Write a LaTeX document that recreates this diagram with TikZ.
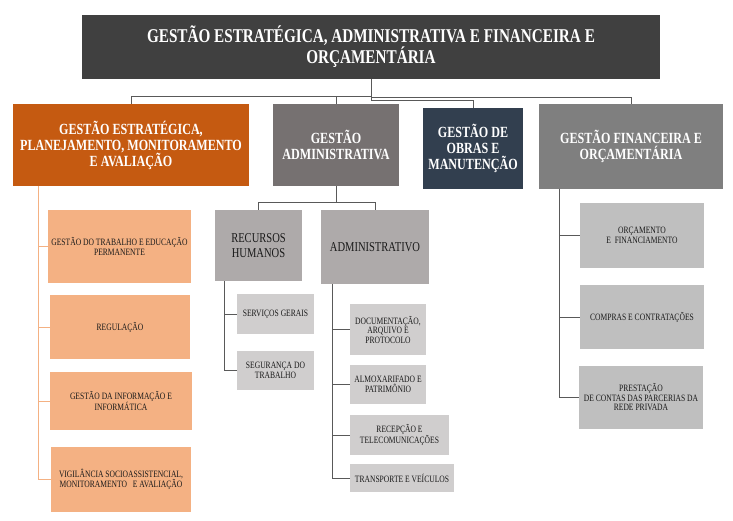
\documentclass[tikz,border=0pt]{standalone}
\usepackage{fontspec}
\setmainfont{Liberation Serif}[FakeStretch=0.78]

\definecolor{topgray}{HTML}{404040}
\definecolor{estorange}{HTML}{C55A11}
\definecolor{admgray}{HTML}{767171}
\definecolor{obrasblue}{HTML}{323F4F}
\definecolor{fingray}{HTML}{7F7F7F}
\definecolor{estlight}{HTML}{F4B183}
\definecolor{admmid}{HTML}{AEAAAA}
\definecolor{admlight}{HTML}{D0CECE}
\definecolor{finlight}{HTML}{BFBFBF}
\definecolor{linkgray}{HTML}{595959}
\definecolor{textdark}{HTML}{1A1A1A}

\begin{document}
\begin{tikzpicture}[x=1pt,y=-1pt,inner sep=0pt,
  box/.style={align=center,inner sep=0pt},
  headbox/.style={box,text=white,font=\bfseries\fontsize{15.5}{16}\selectfont},
  unitbox/.style={box,fill=admmid,text=textdark,font=\fontsize{13.5}{15}\selectfont},
  leafbox/.style={box,text=textdark,font=\fontsize{9.7}{9.5}\selectfont},
  link/.style={draw=linkgray,line width=0.9pt},
  orangelink/.style={draw=estlight,line width=1pt}]

\useasboundingbox (0,0) rectangle (733,521);

\node[box,fill=topgray,text=white,font=\bfseries\fontsize{19.5}{19}\selectfont,minimum width=578pt,minimum height=64pt] (top) at (371,47) {GESTÃO ESTRATÉGICA, ADMINISTRATIVA E FINANCEIRA E\\ORÇAMENTÁRIA};

\node[headbox,fill=estorange,minimum width=236pt,minimum height=82pt] (est) at (131,145) {GESTÃO ESTRATÉGICA,\\PLANEJAMENTO, MONITORAMENTO\\E AVALIAÇÃO};
\node[headbox,fill=admgray,minimum width=126pt,minimum height=82pt] (adm) at (336,145) {GESTÃO\\ADMINISTRATIVA};
\node[headbox,fill=obrasblue,minimum width=100pt,minimum height=81pt] (obras) at (473,148.5) {GESTÃO DE\\OBRAS E\\MANUTENÇÃO};
\node[headbox,fill=fingray,minimum width=184pt,minimum height=85pt] (fin) at (631,146.5) {GESTÃO FINANCEIRA E\\ORÇAMENTÁRIA};

\coordinate (hubleft) at (371,96);
\coordinate (hubright) at (371,97);
\coordinate (hubobras) at (371,100);
\draw[link] (top.south) -- (hubobras);
\draw[link] (hubleft) -| (est.north);
\draw[link] (hubleft) -| (adm.north);
\draw[link] (hubright) -| (fin.north);
\draw[link] (hubobras) -| (obras.north);

\node[leafbox,fill=estlight,minimum width=143pt,minimum height=73pt] (trab) at (119.5,246.5) {GESTÃO DO TRABALHO E EDUCAÇÃO\\PERMANENTE};
\node[leafbox,fill=estlight,minimum width=140pt,minimum height=64pt] (reg) at (120,327) {REGULAÇÃO};
\node[leafbox,fill=estlight,minimum width=142pt,minimum height=58pt] (info) at (121,401) {GESTÃO DA INFORMAÇÃO E\\INFORMÁTICA};
\node[leafbox,fill=estlight,minimum width=140pt,minimum height=65pt] (vigi) at (121,479.5) {VIGILÂNCIA SOCIOASSISTENCIAL,\\MONITORAMENTO \ \ E AVALIAÇÃO};

\coordinate (estroot) at (38,186);
\draw[orangelink] (estroot) |- (trab.west);
\draw[orangelink] (estroot) |- (reg.west);
\draw[orangelink] (estroot) |- (info.west);
\draw[orangelink] (estroot) |- (vigi.west);

\node[unitbox,minimum width=87pt,minimum height=71pt] (rh) at (258.5,245.5) {RECURSOS\\HUMANOS};
\node[unitbox,minimum width=108pt,minimum height=74pt] (admin) at (375,247) {ADMINISTRATIVO};

\coordinate (admhub) at (336,202);
\draw[link] (adm.south) -- (admhub);
\draw[link] (admhub) -| (rh.north);
\draw[link] (admhub) -| (admin.north);

\node[leafbox,fill=admlight,minimum width=77pt,minimum height=40pt] (servicos) at (275.5,314) {SERVIÇOS GERAIS};
\node[leafbox,fill=admlight,minimum width=77pt,minimum height=39pt] (seguranca) at (275.5,370.5) {SEGURANÇA DO\\TRABALHO};

\coordinate (rhroot) at (224,281);
\draw[link] (rhroot) |- (servicos.west);
\draw[link] (rhroot) |- (seguranca.west);

\node[leafbox,fill=admlight,minimum width=76pt,minimum height=51pt] (doc) at (388,329.5) {DOCUMENTAÇÃO,\\ARQUIVO E\\PROTOCOLO};
\node[leafbox,fill=admlight,minimum width=76pt,minimum height=39pt] (almox) at (388,384.5) {ALMOXARIFADO E\\PATRIMÔNIO};
\node[leafbox,fill=admlight,minimum width=99pt,minimum height=40pt] (recep) at (399.5,435) {RECEPÇÃO E\\TELECOMUNICAÇÕES};
\node[leafbox,fill=admlight,minimum width=104pt,minimum height=28pt] (transp) at (402,478) {TRANSPORTE E VEÍCULOS};

\coordinate (adminroot) at (332,284);
\draw[link] (adminroot) |- (doc.west);
\draw[link] (adminroot) |- (almox.west);
\draw[link] (adminroot) |- (recep.west);
\draw[link] (adminroot) |- (transp.west);

\node[leafbox,fill=finlight,minimum width=124pt,minimum height=65pt] (orc) at (642,235.5) {ORÇAMENTO\\E \ FINANCIAMENTO};
\node[leafbox,fill=finlight,minimum width=124pt,minimum height=64pt] (compras) at (642,317) {COMPRAS E CONTRATAÇÕES};
\node[leafbox,fill=finlight,minimum width=124pt,minimum height=63pt] (prest) at (641,397.5) {PRESTAÇÃO\\DE CONTAS DAS PARCERIAS DA\\REDE PRIVADA};

\coordinate (finroot) at (559,189);
\draw[link] (finroot) |- (orc.west);
\draw[link] (finroot) |- (compras.west);
\draw[link] (finroot) |- (prest.west);

\end{tikzpicture}
\end{document}
